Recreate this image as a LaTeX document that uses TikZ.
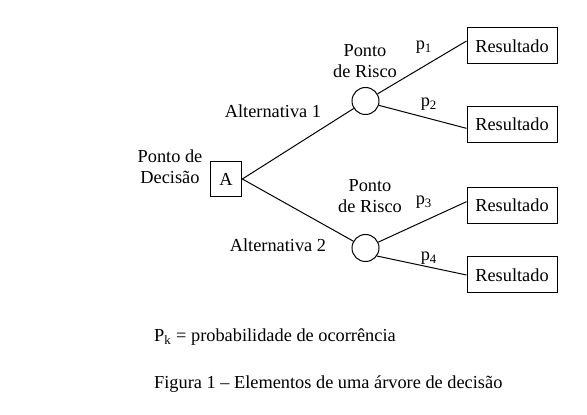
\documentclass[tikz,border=0pt]{standalone}
\usepackage{fontspec}
\setmainfont{Liberation Serif}
\usetikzlibrary{positioning}

\begin{document}
\begin{tikzpicture}[
            x = 0.6pt, y = -0.6pt, % one unit = one pixel of the page
            semithick, % line style
            font = \fontsize{11}{12.5}\selectfont,
            decision/.style = {draw, minimum width = 19pt, minimum height = 21pt, inner sep = 0pt},
            chance/.style = {draw, circle, minimum size = 16.2pt, inner sep = 0pt},
            result/.style = {draw, minimum width = 54pt, minimum height = 21.6pt, inner sep = 0pt},
            tag/.style = {align = center, inner sep = 1pt}
        ]

        \useasboundingbox (0,0) rectangle (587,415);

        % nodes of the tree
        \node[decision] (A) at (226,179) {A};
        \node[chance] (c1) at (365.5,101) {};
        \node[chance] (c2) at (365.5,248) {};
        \node[result] (r1) at (512,46) {Resultado};
        \node[result] (r2) at (512,124.5) {Resultado};
        \node[result] (r3) at (512,205.5) {Resultado};
        \node[result] (r4) at (512,275) {Resultado};

        % texts
        \node[tag] (dec) at (170,167) {Ponto de\\Decisão};
        \node[tag] (risk1) at (365,61.5) {Ponto\\de Risco};
        \node[tag] (risk2) at (370,196) {Ponto\\de Risco};
        \node[tag] (alt1) at (273,111) {Alternativa 1};
        \node[tag] (alt2) at (278,245) {Alternativa 2};
        \node[tag] (p1) at (424,47) {p\textsubscript{1}};
        \node[tag] (p2) at (429,104) {p\textsubscript{2}};
        \node[tag] (p3) at (424,202) {p\textsubscript{3}};
        \node[tag] (p4) at (429,258) {p\textsubscript{4}};
        \node[tag, anchor = west] (legend) at (152,337) {P\textsubscript{k} = probabilidade de ocorrência};
        \node[tag, anchor = west] (caption) at (152,384) {Figura 1 – Elementos de uma árvore de decisão};

        % branches
        \draw (A.east) -- (c1);
        \draw (A.east) -- (c2);
        \draw (c1) -- ([yshift=3pt]r1.west);
        \draw (c1.-18) -- ([yshift=-2.3pt]r2.west);
        \draw (c2) -- ([yshift=2.3pt]r3.west);
        \draw (c2.-35) -- (r4.west);
    \end{tikzpicture}
\end{document}
